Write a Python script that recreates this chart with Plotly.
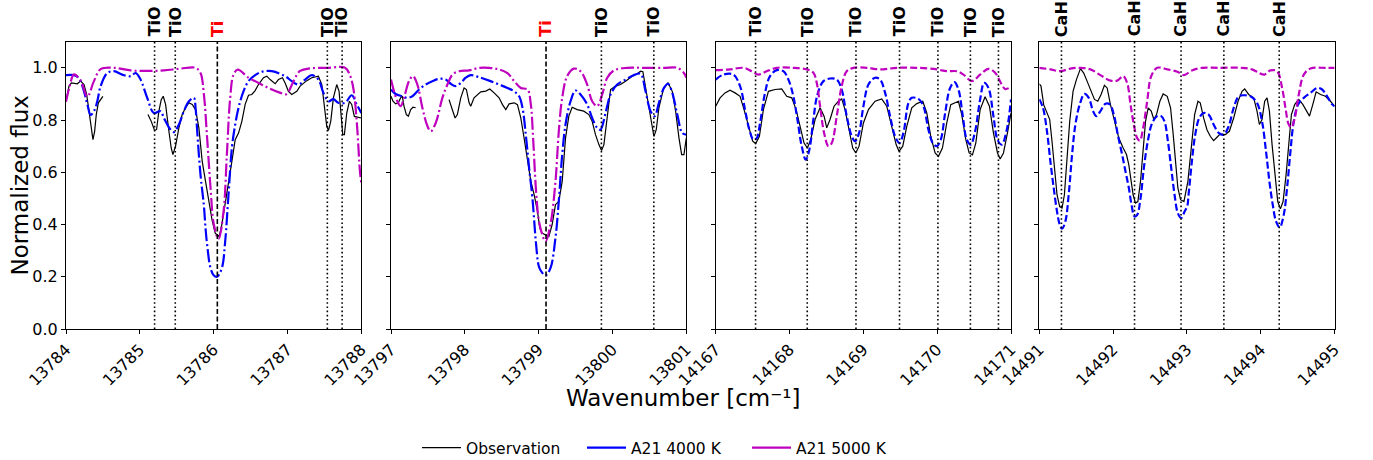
import plotly.graph_objects as go

# ---------------- data ----------------
# Panel 1 : 13784 - 13788 cm^-1
p1_obs_x = [13784.0, 13784.041, 13784.072, 13784.153, 13784.198, 13784.244, 13784.28, 13784.311, 13784.343, 13784.365,
            13784.388, 13784.41, 13784.438, 13784.469, 13784.5, None,
            13785.11, 13785.155, 13785.20, 13785.227, 13785.258, 13785.29, 13785.317, 13785.349, 13785.394, 13785.425,
            13785.448, 13785.484, 13785.529, 13785.574, 13785.619, 13785.664, 13785.71, 13785.755, 13785.80, 13785.845,
            13785.89, 13785.935, 13785.98, 13786.021, 13786.043, 13786.075, 13786.111, 13786.156, 13786.201, 13786.247,
            13786.292, 13786.337, 13786.382, 13786.427, 13786.472, 13786.517, 13786.562, 13786.607, 13786.675, 13786.72,
            13786.765, 13786.833, 13786.878, 13786.932, 13786.968, 13787.013, 13787.058, 13787.126, 13787.171, 13787.262,
            13787.329, 13787.419, 13787.465, 13787.50, 13787.532, 13787.555, 13787.586, 13787.622, 13787.667, 13787.699,
            13787.726, 13787.749, 13787.771, 13787.803, 13787.839, 13787.87, 13787.906, 13788.0]
p1_obs_y = [0.872, 0.93, 0.942, 0.939, 0.949, 0.936, 0.898, 0.834, 0.757, 0.725,
            0.757, 0.821, 0.866, 0.878, 0.891, None,
            0.821, 0.795, 0.76, 0.764, 0.834, 0.878, 0.891, 0.86, 0.757, 0.693,
            0.668, 0.70, 0.77, 0.821, 0.847, 0.866, 0.86, 0.84, 0.77, 0.642,
            0.565, 0.488, 0.415, 0.367, 0.36, 0.354, 0.40, 0.476, 0.565, 0.642,
            0.725, 0.75, 0.795, 0.86, 0.895, 0.898, 0.913, 0.936, 0.962, 0.968,
            0.955, 0.939, 0.955, 0.962, 0.942, 0.91, 0.898, 0.91, 0.93, 0.951,
            0.962, 0.968, 0.936, 0.86, 0.776, 0.76, 0.795, 0.885, 0.936, 0.91,
            0.821, 0.744, 0.744, 0.827, 0.872, 0.86, 0.814, 0.808]
p1_m4_x = [13784.0, 13784.108, 13784.176, 13784.244, 13784.289, 13784.334, 13784.379, 13784.424, 13784.469, 13784.559,
           13784.65, 13784.762, 13784.875, 13784.943, 13785.01, 13785.10, 13785.19, 13785.28, 13785.326, 13785.416,
           13785.461, 13785.53, 13785.597, 13785.665, 13785.732, 13785.755, 13785.777, 13785.822, 13785.867, 13785.89,
           13785.912, 13785.958, 13786.003, 13786.045, 13786.111, 13786.156, 13786.201, 13786.247, 13786.292, 13786.337,
           13786.404, 13786.472, 13786.562, 13786.652, 13786.788, 13786.968, 13787.058, 13787.148, 13787.239, 13787.329,
           13787.419, 13787.487, 13787.555, 13787.622, 13787.69, 13787.78, 13787.87, 13787.938, 13788.0]
p1_m4_y = [0.972, 0.972, 0.96, 0.91, 0.86, 0.82, 0.834, 0.872, 0.93, 0.98,
           0.987, 0.974, 0.968, 0.98, 0.955, 0.885, 0.827, 0.834, 0.808, 0.763,
           0.754, 0.783, 0.834, 0.872, 0.885, 0.847, 0.757, 0.59, 0.475, 0.386,
           0.322, 0.233, 0.205, 0.2, 0.233, 0.335, 0.514, 0.693, 0.783, 0.847,
           0.91, 0.949, 0.972, 0.985, 0.987, 0.968, 0.949, 0.936, 0.955, 0.972,
           0.955, 0.904, 0.872, 0.88, 0.866, 0.866, 0.895, 0.86, 0.827]
p1_m5_x = [13784.0, 13784.05, 13784.108, 13784.2, 13784.289, 13784.38, 13784.469, 13784.65, 13784.875, 13785.10,
           13785.326, 13785.552, 13785.755, 13785.822, 13785.867, 13785.912, 13785.958, 13786.003, 13786.066, 13786.134,
           13786.179, 13786.224, 13786.269, 13786.327, 13786.472, 13786.562, 13786.742, 13786.895, 13786.985, 13787.076,
           13787.166, 13787.284, 13787.554, 13787.78, 13787.848, 13787.893, 13787.938, 13787.983, 13788.0]
p1_m5_y = [0.87, 0.93, 0.975, 0.95, 0.89, 0.95, 0.995, 1.0, 0.99, 0.988,
           0.99, 0.997, 1.0, 0.98, 0.90, 0.73, 0.54, 0.40, 0.345, 0.45,
           0.667, 0.885, 0.974, 0.993, 0.962, 0.949, 0.923, 0.905, 0.899, 0.945,
           0.987, 0.997, 1.0, 1.0, 0.97, 0.92, 0.795, 0.6, 0.56]

# Panel 2 : 13797 - 13801 cm^-1
p2_obs_x = [13797.0, 13797.027, 13797.063, 13797.099, 13797.131, 13797.154, 13797.176, 13797.208, 13797.235, 13797.267,
            13797.298, 13797.334, None,
            13797.786, 13797.832, 13797.868, 13797.899, 13797.945, 13797.99, 13798.021, 13798.058, 13798.08, 13798.125,
            13798.171, 13798.216, 13798.284, 13798.338, 13798.397, 13798.464, 13798.51, 13798.555, 13798.6, 13798.668,
            13798.713, 13798.758, 13798.803, 13798.849, 13798.894, 13798.939, 13798.984, 13799.016, 13799.047, 13799.093,
            13799.138, 13799.183, 13799.228, 13799.273, 13799.319, 13799.364, 13799.409, 13799.454, 13799.522, 13799.612,
            13799.68, 13799.725, 13799.77, 13799.816, 13799.852, 13799.884, 13799.929, 13799.974, 13800.041, 13800.109,
            13800.177, 13800.267, 13800.336, 13800.381, 13800.412, 13800.448, 13800.494, 13800.525, 13800.561, 13800.593,
            13800.629, 13800.688, 13800.752, 13800.81, 13800.855, 13800.901, 13800.937, 13800.968, 13801.0]
p2_obs_y = [0.891, 0.872, 0.862, 0.866, 0.885, 0.891, 0.853, 0.821, 0.815, 0.84,
            0.849, 0.847, None,
            0.878, 0.834, 0.808, 0.821, 0.885, 0.923, 0.917, 0.866, 0.853, 0.885,
            0.898, 0.908, 0.911, 0.919, 0.904, 0.885, 0.859, 0.84, 0.862, 0.866,
            0.859, 0.808, 0.731, 0.642, 0.565, 0.514, 0.45, 0.386, 0.367, 0.36,
            0.354, 0.40, 0.476, 0.488, 0.565, 0.731, 0.815, 0.849, 0.84, 0.834,
            0.821, 0.795, 0.744, 0.706, 0.683, 0.706, 0.821, 0.917, 0.93, 0.936,
            0.949, 0.968, 0.977, 0.987, 0.985, 0.923, 0.847, 0.783, 0.737, 0.763,
            0.847, 0.917, 0.942, 0.91, 0.834, 0.731, 0.668, 0.668, 0.731]
p2_m4_x = [13797.0, 13797.063, 13797.154, 13797.221, 13797.289, 13797.38, 13797.47, 13797.56, 13797.651, 13797.741,
           13797.809, 13797.877, 13797.945, 13798.012, 13798.08, 13798.193, 13798.329, 13798.464, 13798.577, 13798.668,
           13798.736, 13798.781, 13798.826, 13798.871, 13798.916, 13798.962, 13798.998, 13799.025, 13799.093, 13799.16,
           13799.228, 13799.273, 13799.319, 13799.364, 13799.432, 13799.5, 13799.567, 13799.657, 13799.725, 13799.793,
           13799.838, 13799.906, 13799.974, 13800.064, 13800.177, 13800.29, 13800.38, 13800.448, 13800.516, 13800.571,
           13800.629, 13800.697, 13800.752, 13800.81, 13800.878, 13800.946, 13801.0]
p2_m4_y = [0.917, 0.90, 0.891, 0.885, 0.891, 0.917, 0.936, 0.949, 0.958, 0.955,
           0.939, 0.93, 0.942, 0.962, 0.972, 0.964, 0.951, 0.936, 0.923, 0.91,
           0.891, 0.847, 0.744, 0.616, 0.50, 0.335, 0.245, 0.225, 0.205, 0.233,
           0.35, 0.49, 0.667, 0.783, 0.872, 0.913, 0.898, 0.86, 0.808, 0.77,
           0.763, 0.827, 0.898, 0.936, 0.955, 0.972, 0.977, 0.91, 0.834, 0.815,
           0.866, 0.923, 0.939, 0.904, 0.821, 0.75, 0.744]
p2_m5_x = [13797.0, 13797.041, 13797.086, 13797.131, 13797.176, 13797.244, 13797.298, 13797.357, 13797.425, 13797.493,
           13797.538, 13797.606, 13797.696, 13797.764, 13797.832, 13797.922, 13798.058, 13798.193, 13798.329, 13798.464,
           13798.577, 13798.668, 13798.758, 13798.849, 13798.894, 13798.925, 13798.962, 13799.0, 13799.04, 13799.093,
           13799.16, 13799.228, 13799.273, 13799.319, 13799.386, 13799.477, 13799.567, 13799.657, 13799.725, 13799.793,
           13799.861, 13799.929, 13800.019, 13800.2, 13800.426, 13800.697, 13800.877, 13800.968, 13801.0]
p2_m5_y = [0.955, 0.91, 0.872, 0.853, 0.885, 0.949, 0.968, 0.936, 0.847, 0.777,
           0.757, 0.789, 0.885, 0.936, 0.974, 0.987, 0.99, 1.0, 1.0, 0.994,
           0.98, 0.949, 0.923, 0.917, 0.86, 0.731, 0.54, 0.42, 0.37, 0.335,
           0.40, 0.565, 0.757, 0.885, 0.968, 0.997, 0.987, 0.936, 0.872, 0.853,
           0.898, 0.962, 0.99, 1.0, 1.0, 1.0, 1.0, 0.98, 0.962]

# Panel 3 : 14167 - 14171 cm^-1
p3_obs_x = [14167.0, 14167.059, 14167.126, 14167.194, 14167.262, 14167.33, 14167.384, 14167.443, 14167.501, 14167.542,
            14167.592, 14167.646, 14167.714, 14167.804, 14167.894, 14167.962, 14168.03, 14168.089, 14168.143, 14168.197,
            14168.242, 14168.287, 14168.346, 14168.414, 14168.468, 14168.504, 14168.549, 14168.603, 14168.662, 14168.707,
            14168.752, 14168.811, 14168.856, 14168.897, 14168.942, 14169.001, 14169.069, 14169.159, 14169.249, 14169.317,
            14169.385, 14169.444, 14169.484, 14169.534, 14169.588, 14169.656, 14169.724, 14169.805, 14169.859, 14169.913,
            14169.972, 14170.017, 14170.071, 14170.13, 14170.184, 14170.243, 14170.288, 14170.333, 14170.388, 14170.433,
            14170.478, 14170.523, 14170.582, 14170.649, 14170.708, 14170.762, 14170.817, 14170.853, 14170.898, 14170.952,
            14171.0]
p3_obs_y = [0.853, 0.885, 0.904, 0.914, 0.904, 0.891, 0.84, 0.776, 0.719, 0.71,
            0.738, 0.84, 0.91, 0.917, 0.919, 0.891, 0.885, 0.84, 0.776, 0.712,
            0.693, 0.725, 0.802, 0.847, 0.815, 0.77, 0.802, 0.853, 0.872, 0.881,
            0.84, 0.751, 0.693, 0.674, 0.70, 0.789, 0.84, 0.872, 0.881, 0.853,
            0.776, 0.706, 0.68, 0.70, 0.776, 0.847, 0.863, 0.872, 0.827, 0.738,
            0.674, 0.661, 0.693, 0.789, 0.859, 0.866, 0.872, 0.821, 0.725, 0.674,
            0.667, 0.712, 0.84, 0.889, 0.853, 0.751, 0.674, 0.651, 0.674, 0.751,
            0.827]
p3_m4_x = [14167.0, 14167.104, 14167.239, 14167.33, 14167.397, 14167.456, 14167.51, 14167.556, 14167.601, 14167.668,
           14167.736, 14167.827, 14167.917, 14167.985, 14168.052, 14168.107, 14168.165, 14168.22, 14168.269, 14168.323,
           14168.378, 14168.459, 14168.549, 14168.64, 14168.707, 14168.775, 14168.843, 14168.888, 14168.942, 14169.001,
           14169.069, 14169.159, 14169.227, 14169.295, 14169.362, 14169.43, 14169.489, 14169.543, 14169.611, 14169.656,
           14169.746, 14169.814, 14169.882, 14169.94, 14169.995, 14170.049, 14170.108, 14170.175, 14170.234, 14170.288,
           14170.347, 14170.401, 14170.455, 14170.514, 14170.582, 14170.636, 14170.695, 14170.762, 14170.817, 14170.875,
           14170.943, 14171.0]
p3_m4_y = [0.955, 0.974, 0.974, 0.93, 0.84, 0.763, 0.725, 0.731, 0.789, 0.904,
           0.968, 0.991, 0.987, 0.955, 0.891, 0.802, 0.70, 0.648, 0.687, 0.802,
           0.898, 0.949, 0.959, 0.955, 0.917, 0.815, 0.738, 0.719, 0.751, 0.853,
           0.936, 0.962, 0.955, 0.904, 0.815, 0.738, 0.712, 0.751, 0.866, 0.885,
           0.881, 0.853, 0.763, 0.712, 0.70, 0.725, 0.827, 0.923, 0.945, 0.917,
           0.815, 0.725, 0.706, 0.757, 0.879, 0.942, 0.923, 0.815, 0.725, 0.706,
           0.763, 0.879]
p3_m5_x = [14167.0, 14167.194, 14167.375, 14167.488, 14167.578, 14167.691, 14167.827, 14168.052, 14168.233, 14168.323,
           14168.369, 14168.414, 14168.468, 14168.527, 14168.572, 14168.64, 14168.707, 14168.775, 14168.865, 14169.046,
           14169.227, 14169.453, 14169.724, 14169.995, 14170.13, 14170.266, 14170.356, 14170.469, 14170.582, 14170.695,
           14170.785, 14170.875, 14170.92, 14171.0]
p3_m5_y = [0.991, 0.994, 1.0, 0.987, 0.974, 0.987, 1.0, 1.0, 0.994, 0.981,
           0.942, 0.853, 0.751, 0.70, 0.712, 0.815, 0.93, 0.987, 1.0, 1.0,
           0.994, 1.0, 1.0, 0.994, 0.987, 0.987, 0.974, 0.949, 0.974, 0.996,
           0.981, 0.936, 0.919, 0.927]

# Panel 4 : 14491 - 14495 cm^-1
p4_obs_x = [14491.0, 14491.023, 14491.059, 14491.095, 14491.141, 14491.172, 14491.204, 14491.24, 14491.276, 14491.308,
            14491.34, 14491.376, 14491.412, 14491.457, 14491.503, 14491.557, 14491.602, 14491.647, 14491.701, 14491.747,
            14491.792, 14491.837, 14491.882, 14491.919, 14491.964, 14492.018, 14492.077, 14492.136, 14492.181, 14492.212,
            14492.244, 14492.271, 14492.303, 14492.335, 14492.371, 14492.407, 14492.439, 14492.475, 14492.516, 14492.552,
            14492.588, 14492.633, 14492.678, 14492.733, 14492.778, 14492.814, 14492.846, 14492.877, 14492.913, 14492.959,
            14493.013, 14493.058, 14493.104, 14493.149, 14493.18, 14493.226, 14493.271, 14493.316, 14493.361, 14493.407,
            14493.452, 14493.52, 14493.574, 14493.633, 14493.692, 14493.746, 14493.782, 14493.836, 14493.904, 14493.949,
            14493.981, 14494.017, 14494.053, 14494.085, 14494.117, 14494.153, 14494.189, 14494.23, 14494.266, 14494.302,
            14494.343, 14494.379, 14494.415, 14494.461, 14494.515, 14494.569, 14494.615, 14494.66, 14494.705, 14494.75,
            14494.809, 14494.877, 14494.944, 14495.0]
p4_obs_y = [0.939, 0.93, 0.859, 0.834, 0.802, 0.719, 0.616, 0.514, 0.469, 0.463,
            0.514, 0.642, 0.795, 0.91, 0.955, 0.997, 0.98, 0.949, 0.91, 0.879,
            0.872, 0.898, 0.933, 0.923, 0.859, 0.795, 0.731, 0.693, 0.668, 0.629,
            0.565, 0.514, 0.482, 0.488, 0.565, 0.693, 0.795, 0.847, 0.834, 0.802,
            0.821, 0.872, 0.90, 0.891, 0.847, 0.744, 0.629, 0.54, 0.495, 0.488,
            0.565, 0.693, 0.821, 0.872, 0.866, 0.808, 0.763, 0.738, 0.721, 0.734,
            0.747, 0.744, 0.757, 0.808, 0.872, 0.91, 0.919, 0.898, 0.885, 0.834,
            0.783, 0.802, 0.872, 0.885, 0.834, 0.706, 0.591, 0.488, 0.46, 0.488,
            0.591, 0.719, 0.821, 0.86, 0.879, 0.86, 0.834, 0.815, 0.86, 0.908,
            0.898, 0.891, 0.872, 0.853]
p4_m4_x = [14491.0, 14491.05, 14491.104, 14491.15, 14491.195, 14491.24, 14491.276, 14491.308, 14491.353, 14491.398,
           14491.444, 14491.489, 14491.548, 14491.611, 14491.67, 14491.729, 14491.774, 14491.828, 14491.896, 14491.955,
           14492.01, 14492.063, 14492.122, 14492.167, 14492.213, 14492.249, 14492.29, 14492.326, 14492.371, 14492.416,
           14492.47, 14492.529, 14492.597, 14492.651, 14492.696, 14492.742, 14492.787, 14492.832, 14492.877, 14492.923,
           14492.968, 14493.004, 14493.022, 14493.067, 14493.112, 14493.167, 14493.226, 14493.294, 14493.361, 14493.429,
           14493.497, 14493.565, 14493.633, 14493.701, 14493.769, 14493.859, 14493.949, 14494.017, 14494.071, 14494.117,
           14494.162, 14494.207, 14494.257, 14494.311, 14494.356, 14494.402, 14494.447, 14494.506, 14494.583, 14494.673,
           14494.764, 14494.831, 14494.899, 14494.967, 14495.0]
p4_m4_y = [0.88, 0.847, 0.757, 0.642, 0.54, 0.45, 0.40, 0.384, 0.412, 0.514,
           0.668, 0.783, 0.86, 0.90, 0.885, 0.834, 0.815, 0.834, 0.862, 0.86,
           0.821, 0.744, 0.668, 0.604, 0.54, 0.476, 0.431, 0.437, 0.50, 0.616,
           0.719, 0.789, 0.815, 0.815, 0.795, 0.719, 0.616, 0.514, 0.443, 0.425,
           0.45, 0.47, 0.514, 0.642, 0.744, 0.808, 0.827, 0.821, 0.783, 0.751,
           0.744, 0.776, 0.847, 0.891, 0.895, 0.891, 0.866, 0.795, 0.68, 0.565,
           0.476, 0.412, 0.389, 0.437, 0.54, 0.68, 0.795, 0.86, 0.885, 0.904,
           0.923, 0.917, 0.891, 0.86, 0.853]
p4_m5_x = [14491.0, 14491.15, 14491.285, 14491.421, 14491.557, 14491.692, 14491.828, 14491.964, 14492.055, 14492.136,
           14492.19, 14492.236, 14492.28, 14492.326, 14492.362, 14492.407, 14492.461, 14492.516, 14492.597, 14492.733,
           14492.869, 14492.959, 14493.067, 14493.203, 14493.429, 14493.746, 14493.881, 14493.972, 14494.049, 14494.13,
           14494.221, 14494.289, 14494.334, 14494.379, 14494.415, 14494.461, 14494.515, 14494.583, 14494.673, 14494.877,
           14495.0]
p4_m5_y = [1.0, 0.994, 0.987, 0.997, 1.0, 0.994, 0.972, 0.951, 0.951, 0.968,
           0.942, 0.859, 0.783, 0.731, 0.721, 0.77, 0.872, 0.968, 1.0, 0.994,
           0.985, 0.972, 0.99, 1.0, 1.0, 1.0, 0.994, 0.981, 0.974, 0.99,
           0.987, 0.923, 0.847, 0.783, 0.772, 0.808, 0.898, 0.974, 0.997, 1.0,
           1.0]

# axis ranges / ticks
p1_range = [13784, 13788]
p2_range = [13797, 13801]
p3_range = [14167, 14171]
p4_range = [14491, 14495]
y_ticks = [0.0, 0.2, 0.4, 0.6, 0.8, 1.0]

# identified lines: (species, wavenumber)
p1_lines = [("TiO", 13785.20), ("TiO", 13785.48), ("Ti", 13786.05), ("TiO", 13787.54), ("TiO", 13787.74)]
p2_lines = [("Ti", 13799.10), ("TiO", 13799.85), ("TiO", 13800.56)]
p3_lines = [("TiO", 14167.54), ("TiO", 14168.24), ("TiO", 14168.90), ("TiO", 14169.49),
            ("TiO", 14170.01), ("TiO", 14170.45), ("TiO", 14170.83)]
p4_lines = [("CaH", 14491.30), ("CaH", 14492.29), ("CaH", 14492.92), ("CaH", 14493.50), ("CaH", 14494.25)]

series_names = ["Observation", "A21 4000 K", "A21 5000 K"]

# ---------------- figure ----------------
FONT = "DejaVu Sans"
BLUE = "#0000ff"
MAG = "#bf00bf"
W, H = 1373, 460

panels = [
    (p1_range, (p1_obs_x, p1_obs_y), (p1_m4_x, p1_m4_y), (p1_m5_x, p1_m5_y), "dashdot", p1_lines),
    (p2_range, (p2_obs_x, p2_obs_y), (p2_m4_x, p2_m4_y), (p2_m5_x, p2_m5_y), "dashdot", p2_lines),
    (p3_range, (p3_obs_x, p3_obs_y), (p3_m4_x, p3_m4_y), (p3_m5_x, p3_m5_y), "dash", p3_lines),
    (p4_range, (p4_obs_x, p4_obs_y), (p4_m4_x, p4_m4_y), (p4_m5_x, p4_m5_y), "dash", p4_lines),
]
left_px = [66.0, 391.0, 715.7, 1039.3]
width_px = 295.3
y_dom = [1 - 329.0 / H, 1 - 41.7 / H]
dash_map = {"dashdot": "13px,3px,2px,3px", "dash": "7px,3px"}

fig = go.Figure()
layout = {}
shapes = []
annotations = []

for i, (xr, obs, m4, m5, style, lines) in enumerate(panels):
    n = "" if i == 0 else str(i + 1)
    xa, ya = "x" + n, "y" + n
    for (xs, ys) in (obs, m4, m5):
        assert len(xs) == len(ys)
    fig.add_trace(go.Scatter(x=obs[0], y=obs[1], mode="lines", xaxis=xa, yaxis=ya,
                             line=dict(color="black", width=1.2), showlegend=False, connectgaps=False))
    fig.add_trace(go.Scatter(x=m4[0], y=m4[1], mode="lines", xaxis=xa, yaxis=ya, line_shape="spline",
                             line=dict(color=BLUE, width=2.2, dash=dash_map[style]), showlegend=False))
    fig.add_trace(go.Scatter(x=m5[0], y=m5[1], mode="lines", xaxis=xa, yaxis=ya, line_shape="spline",
                             line=dict(color=MAG, width=2.2, dash=dash_map[style]), showlegend=False))

    d0 = left_px[i] / W
    d1 = (left_px[i] + width_px) / W
    layout["xaxis" + n] = dict(
        domain=[d0, d1], range=xr, anchor=ya, tickmode="array", automargin=False,
        tickvals=list(range(xr[0], xr[1] + 1)), ticktext=[str(v) for v in range(xr[0], xr[1] + 1)],
        tickangle=-45, ticks="outside", ticklen=4, tickwidth=1, tickcolor="black",
        showline=True, linecolor="black", linewidth=1, mirror=True, showgrid=False, zeroline=False,
        tickfont=dict(family=FONT, size=16, color="black"),
    )
    layout["yaxis" + n] = dict(
        domain=y_dom, range=[0, 1.1], anchor=xa, tickmode="array", tickvals=y_ticks, automargin=False,
        ticktext=["%.1f" % v for v in y_ticks], showticklabels=(i == 0),
        ticks="outside", ticklen=4, tickwidth=1, tickcolor="black",
        showline=True, linecolor="black", linewidth=1, mirror=True, showgrid=False, zeroline=False,
        tickfont=dict(family=FONT, size=16, color="black"),
    )
    for sp, wn in lines:
        is_atom = sp == "Ti"
        shapes.append(dict(type="line", xref=xa, yref=ya + " domain", x0=wn, x1=wn, y0=0, y1=1,
                           line=dict(color="black", width=1.6, dash="5px,2.5px" if is_atom else "1.6px,2.6px"),
                           layer="above"))
        annotations.append(dict(x=wn, y=1, xref=xa, yref=ya + " domain", text="<b>%s</b>" % sp,
                                textangle=-90, showarrow=False, xanchor="center", yanchor="bottom", yshift=3,
                                font=dict(family=FONT, size=16, color="red" if is_atom else "black")))

# legend proxies (solid lines, as in the reference legend)
for name, col, wdt in zip(series_names, ["black", BLUE, MAG], [1.2, 2.2, 2.2]):
    fig.add_trace(go.Scatter(x=[None], y=[None], mode="lines", name=name, line=dict(color=col, width=wdt),
                             showlegend=True))

annotations.append(dict(x=683 / W, y=1 - 398 / H, xref="paper", yref="paper", text="Wavenumber [cm⁻¹]",
                        showarrow=False, xanchor="center", yanchor="middle",
                        font=dict(family=FONT, size=23, color="black")))
annotations.append(dict(x=20 / W, y=1 - 185.5 / H, xref="paper", yref="paper", text="Normalized flux",
                        showarrow=False, textangle=-90, xanchor="center", yanchor="middle",
                        font=dict(family=FONT, size=23, color="black")))

fig.update_layout(
    width=W, height=H, margin=dict(l=0, r=0, t=0, b=0, autoexpand=False),
    paper_bgcolor="white", plot_bgcolor="white",
    font=dict(family=FONT, color="black"),
    shapes=shapes, annotations=annotations,
    legend=dict(orientation="h", x=417 / W, xanchor="left", y=1 - 448 / H, yanchor="middle",
                font=dict(family=FONT, size=15.5, color="black"), itemwidth=39,
                entrywidth=111, entrywidthmode="pixels", bgcolor="rgba(0,0,0,0)"),
    **layout,
)

fig.write_html("out.html")
